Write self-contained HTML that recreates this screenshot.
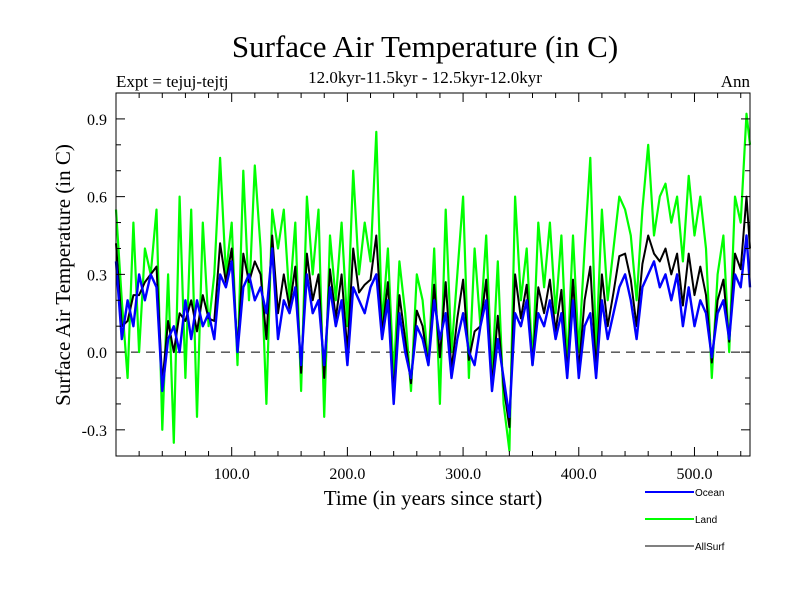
<!DOCTYPE html>
<html><head><meta charset="utf-8"><style>
body{margin:0;background:#fff}
.serif{font-family:"Liberation Serif",serif}
.sans{font-family:"Liberation Sans",sans-serif}
</style></head><body>
<svg id="chart" width="800" height="600" xmlns="http://www.w3.org/2000/svg">
<text class="serif" x="425" y="57" font-size="31" text-anchor="middle">Surface Air Temperature (in C)</text>
<text class="serif" x="425" y="83" font-size="17" text-anchor="middle">12.0kyr-11.5kyr - 12.5kyr-12.0kyr</text>
<text class="serif" x="116" y="87" font-size="17">Expt = tejuj-tejtj</text>
<text class="serif" x="750" y="87" font-size="17" text-anchor="end">Ann</text>
<text class="serif" transform="translate(70,275) rotate(-90)" font-size="21" text-anchor="middle">Surface Air Temperature (in C)</text>
<text class="serif" x="433" y="505" font-size="21" text-anchor="middle">Time (in years since start)</text>
<g id="plot"></g>
<g font-size="10">
<line x1="645" y1="492" x2="694" y2="492" stroke="#0000ff" stroke-width="2"/>
<text class="sans" x="695" y="496" font-size="10">Ocean</text>
<line x1="645" y1="519" x2="694" y2="519" stroke="#00ff00" stroke-width="2"/>
<text class="sans" x="695" y="523" font-size="10">Land</text>
<line x1="645" y1="546" x2="694" y2="546" stroke="#000" stroke-width="1"/>
<text class="sans" x="695" y="550" font-size="10">AllSurf</text>
</g>
</svg>
<script>
const years=[0,5,10,15,20,25,30,35,40,45,50,55,60,65,70,75,80,85,90,95,100,105,110,115,120,125,130,135,140,145,150,155,160,165,170,175,180,185,190,195,200,205,210,215,220,225,230,235,240,245,250,255,260,265,270,275,280,285,290,295,300,305,310,315,320,325,330,335,340,345,350,355,360,365,370,375,380,385,390,395,400,405,410,415,420,425,430,435,440,445,450,455,460,465,470,475,480,485,490,495,500,505,510,515,520,525,530,535,540,545,548];
const ocean=[0.35,0.05,0.2,0.1,0.3,0.2,0.3,0.25,-0.15,0.05,0.1,0.0,0.2,0.05,0.2,0.1,0.15,0.05,0.3,0.25,0.35,0.0,0.25,0.3,0.2,0.25,0.15,0.4,0.05,0.2,0.15,0.25,-0.05,0.3,0.15,0.2,-0.05,0.25,0.1,0.2,-0.05,0.25,0.2,0.15,0.25,0.3,0.05,0.2,-0.2,0.15,0.0,-0.1,0.1,0.05,-0.05,0.2,0.05,0.15,-0.1,0.05,0.15,0.0,-0.05,0.1,0.2,-0.15,0.05,-0.1,-0.25,0.15,0.1,0.2,-0.05,0.15,0.1,0.2,0.05,0.15,-0.1,0.2,-0.1,0.1,0.15,-0.1,0.2,0.05,0.15,0.25,0.3,0.2,0.05,0.25,0.3,0.35,0.25,0.3,0.2,0.3,0.1,0.25,0.1,0.2,0.15,-0.02,0.15,0.2,0.05,0.3,0.25,0.45,0.25];
const land=[0.55,0.2,-0.1,0.5,0.0,0.4,0.3,0.55,-0.3,0.3,-0.35,0.6,-0.1,0.55,-0.25,0.5,0.1,0.3,0.75,0.3,0.5,-0.05,0.7,0.2,0.72,0.4,-0.2,0.55,0.4,0.55,0.2,0.5,-0.15,0.6,0.3,0.55,-0.25,0.45,0.2,0.5,0.1,0.7,0.3,0.5,0.35,0.85,0.1,0.4,-0.1,0.35,0.15,-0.15,0.3,0.2,-0.05,0.4,-0.2,0.55,0.0,0.3,0.6,-0.1,0.4,0.1,0.45,-0.1,0.35,-0.2,-0.38,0.6,0.2,0.4,-0.05,0.5,0.25,0.5,0.15,0.45,-0.05,0.45,0.0,0.4,0.75,0.0,0.55,0.2,0.4,0.6,0.55,0.45,0.2,0.55,0.8,0.45,0.6,0.65,0.5,0.6,0.35,0.68,0.45,0.6,0.4,-0.1,0.3,0.45,0.0,0.6,0.5,0.92,0.8];
const allsurf=[0.42,0.1,0.12,0.22,0.22,0.27,0.3,0.33,-0.12,0.12,0.0,0.15,0.12,0.2,0.08,0.22,0.13,0.12,0.42,0.27,0.4,0.0,0.38,0.27,0.35,0.3,0.05,0.45,0.15,0.3,0.17,0.33,-0.08,0.38,0.2,0.3,-0.1,0.32,0.13,0.3,0.0,0.4,0.23,0.26,0.28,0.45,0.07,0.27,-0.17,0.22,0.05,-0.12,0.16,0.1,-0.05,0.26,-0.02,0.27,-0.07,0.13,0.28,-0.03,0.08,0.1,0.28,-0.13,0.14,-0.13,-0.29,0.3,0.13,0.26,-0.05,0.25,0.15,0.28,0.08,0.24,-0.08,0.28,-0.07,0.2,0.33,-0.07,0.3,0.1,0.23,0.37,0.38,0.28,0.1,0.34,0.45,0.38,0.35,0.4,0.3,0.38,0.18,0.38,0.22,0.33,0.22,-0.04,0.2,0.28,0.04,0.38,0.32,0.6,0.4];
const xTicks=[100,200,300,400,500];
const xTickLabels=["100.0","200.0","300.0","400.0","500.0"];
const yTicks=[-0.3,0,0.3,0.6,0.9];
const yTickLabels=["-0.3","0.0","0.3","0.6","0.9"];

const L=116,R=750,T=93,B=456,XMIN=0,XMAX=548,YMIN=-0.401,YMAX=1.0;
const xs=v=>L+(v-XMIN)/(XMAX-XMIN)*(R-L);
const ys=v=>B-(v-YMIN)/(YMAX-YMIN)*(B-T);
const NS="http://www.w3.org/2000/svg";
const g=document.getElementById('plot');
function mk(tag,attrs){const e=document.createElementNS(NS,tag);for(const k in attrs)e.setAttribute(k,attrs[k]);g.appendChild(e);return e;}

const zero=mk('line',{x1:L,x2:R,y1:ys(0),y2:ys(0),stroke:'#000','stroke-dasharray':'9,6','stroke-width':1});



function series(vals,color,w,name){
  const d=vals.map((v,i)=>(i?'L':'M')+xs(years[i]).toFixed(1)+','+ys(v).toFixed(1)).join('');
  const p=mk('path',{d:d,fill:'none',stroke:color,'stroke-width':w,'stroke-linejoin':'round'});
  
  
}
series(land,'#00ff00',2.2,'land-series');
series(allsurf,'#000000',2,'allsurf-series');
series(ocean,'#0000ff',2.4,'ocean-series');

const frame=mk('rect',{x:L,y:T,width:R-L,height:B-T,fill:'none',stroke:'#000','stroke-width':1});



for(let v=20;v<XMAX;v+=20){
  const big=v%100===0, len=big?9:5;
  const t1=mk('line',{x1:xs(v),x2:xs(v),y1:B,y2:B-len,stroke:'#000'});
  
  
  const t2=mk('line',{x1:xs(v),x2:xs(v),y1:T,y2:T+len,stroke:'#000'});
  
  
}
xTicks.forEach((v,i)=>{
  const t=mk('text',{x:xs(v),y:B+23,'font-size':16,'text-anchor':'middle','class':'serif'});
  t.textContent=xTickLabels[i];
  
  
});
for(let k=-3;k<=9;k++){
  const v=k*0.1, big=(k%3===0), len=big?9:5;
  const t1=mk('line',{x1:L,x2:L+len,y1:ys(v),y2:ys(v),stroke:'#000'});
  
  
  const t2=mk('line',{x1:R,x2:R-len,y1:ys(v),y2:ys(v),stroke:'#000'});
  
  
}
yTicks.forEach((v,i)=>{
  const t=mk('text',{x:L-9,y:ys(v)+6,'font-size':16,'text-anchor':'end','class':'serif'});
  t.textContent=yTickLabels[i];
  
  
});
</script>
</body></html>
